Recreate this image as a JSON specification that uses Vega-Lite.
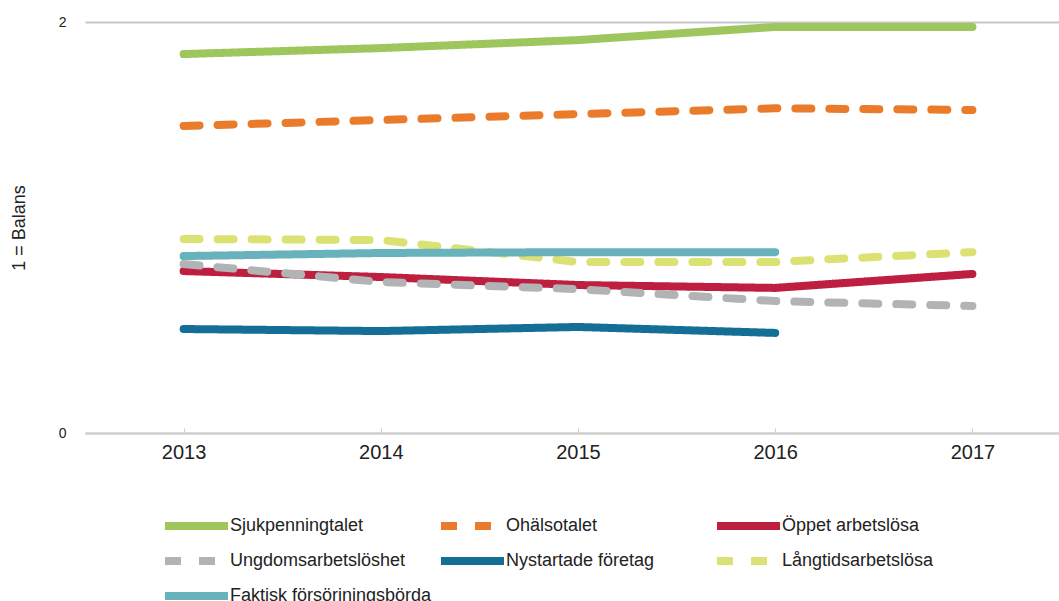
{
  "$schema": "https://vega.github.io/schema/vega-lite/v6.json",
  "width": 986,
  "height": 411,
  "autosize": "none",
  "padding": {"left": 85, "top": 22, "right": 0, "bottom": 168},
  "background": "white",
  "config": {
    "view": {"stroke": null},
    "font": "Liberation Sans"
  },
  "data": {
    "values": [
      {"series": "Sjukpenningtalet", "year": "2013", "value": 1.844},
      {"series": "Sjukpenningtalet", "year": "2014", "value": 1.873},
      {"series": "Sjukpenningtalet", "year": "2015", "value": 1.912},
      {"series": "Sjukpenningtalet", "year": "2016", "value": 1.976},
      {"series": "Sjukpenningtalet", "year": "2017", "value": 1.976},
      {"series": "Ohälsotalet", "year": "2013", "value": 1.494},
      {"series": "Ohälsotalet", "year": "2014", "value": 1.523},
      {"series": "Ohälsotalet", "year": "2015", "value": 1.552},
      {"series": "Ohälsotalet", "year": "2016", "value": 1.58},
      {"series": "Ohälsotalet", "year": "2017", "value": 1.572},
      {"series": "Öppet arbetslösa", "year": "2013", "value": 0.788},
      {"series": "Öppet arbetslösa", "year": "2014", "value": 0.759},
      {"series": "Öppet arbetslösa", "year": "2015", "value": 0.72},
      {"series": "Öppet arbetslösa", "year": "2016", "value": 0.706},
      {"series": "Öppet arbetslösa", "year": "2017", "value": 0.774},
      {"series": "Ungdomsarbetslöshet", "year": "2013", "value": 0.822},
      {"series": "Ungdomsarbetslöshet", "year": "2014", "value": 0.735},
      {"series": "Ungdomsarbetslöshet", "year": "2015", "value": 0.7},
      {"series": "Ungdomsarbetslöshet", "year": "2016", "value": 0.642},
      {"series": "Ungdomsarbetslöshet", "year": "2017", "value": 0.618},
      {"series": "Nystartade företag", "year": "2013", "value": 0.506},
      {"series": "Nystartade företag", "year": "2014", "value": 0.496},
      {"series": "Nystartade företag", "year": "2015", "value": 0.516},
      {"series": "Nystartade företag", "year": "2016", "value": 0.487},
      {"series": "Långtidsarbetslösa", "year": "2013", "value": 0.944},
      {"series": "Långtidsarbetslösa", "year": "2014", "value": 0.939},
      {"series": "Långtidsarbetslösa", "year": "2015", "value": 0.832},
      {"series": "Långtidsarbetslösa", "year": "2016", "value": 0.832},
      {"series": "Långtidsarbetslösa", "year": "2017", "value": 0.88},
      {"series": "Faktisk försörjningsbörda", "year": "2013", "value": 0.861},
      {"series": "Faktisk försörjningsbörda", "year": "2014", "value": 0.876},
      {"series": "Faktisk försörjningsbörda", "year": "2015", "value": 0.88},
      {"series": "Faktisk försörjningsbörda", "year": "2016", "value": 0.88}
    ]
  },
  "mark": {"type": "line", "strokeWidth": 8, "strokeCap": "round", "strokeJoin": "round"},
  "encoding": {
    "x": {
      "field": "year",
      "type": "ordinal",
      "scale": {"type": "point", "padding": 0.5},
      "axis": {
        "title": null,
        "labelAngle": 0,
        "labelFontSize": 20,
        "labelColor": "#222222",
        "labelPadding": 14,
        "domainColor": "#D0D0D0",
        "domainWidth": 2,
        "tickColor": "#D0D0D0",
        "tickSize": -5,
        "grid": false
      }
    },
    "y": {
      "field": "value",
      "type": "quantitative",
      "scale": {"domain": [0, 2], "nice": false},
      "axis": {
        "values": [0, 1, 2],
        "format": "d",
        "title": "1 = Balans",
        "titleFontSize": 18,
        "titleFontWeight": "normal",
        "titleColor": "#222222",
        "titlePadding": 30,
        "labelFontSize": 14,
        "labelColor": "#222222",
        "labelPadding": 19,
        "domain": false,
        "ticks": false,
        "gridColor": "#C6C6C6",
        "gridWidth": 2
      }
    },
    "color": {
      "field": "series",
      "type": "nominal",
      "scale": {
        "domain": ["Sjukpenningtalet", "Ohälsotalet", "Öppet arbetslösa", "Ungdomsarbetslöshet", "Nystartade företag", "Långtidsarbetslösa", "Faktisk försörjningsbörda"],
        "range": ["#9DC75C", "#E97B2A", "#BE1E3F", "#B2B3B5", "#136F96", "#DCE173", "#67B2BB"]
      },
      "legend": {
        "title": null,
        "orient": "none",
        "direction": "horizontal",
        "legendX": 80,
        "legendY": 494,
        "padding": 0,
        "columns": 3,
        "gridAlign": "all",
        "columnPadding": 9,
        "rowPadding": 15,
        "clipHeight": 20,
        "symbolType": "M-1.4,0H4.9",
        "symbolSize": 400,
        "symbolStrokeWidth": 8,
        "symbolOffset": 0,
        "labelFontSize": 18,
        "labelColor": "#222222",
        "labelLimit": 300,
        "labelOffset": 37
      }
    },
    "strokeDash": {
      "field": "series",
      "type": "nominal",
      "scale": {
        "domain": ["Sjukpenningtalet", "Ohälsotalet", "Öppet arbetslösa", "Ungdomsarbetslöshet", "Nystartade företag", "Långtidsarbetslösa", "Faktisk försörjningsbörda"],
        "range": [[1, 0], [16, 18], [1, 0], [16, 18], [1, 0], [16, 18], [1, 0]]
      },
      "legend": null
    }
  }
}
